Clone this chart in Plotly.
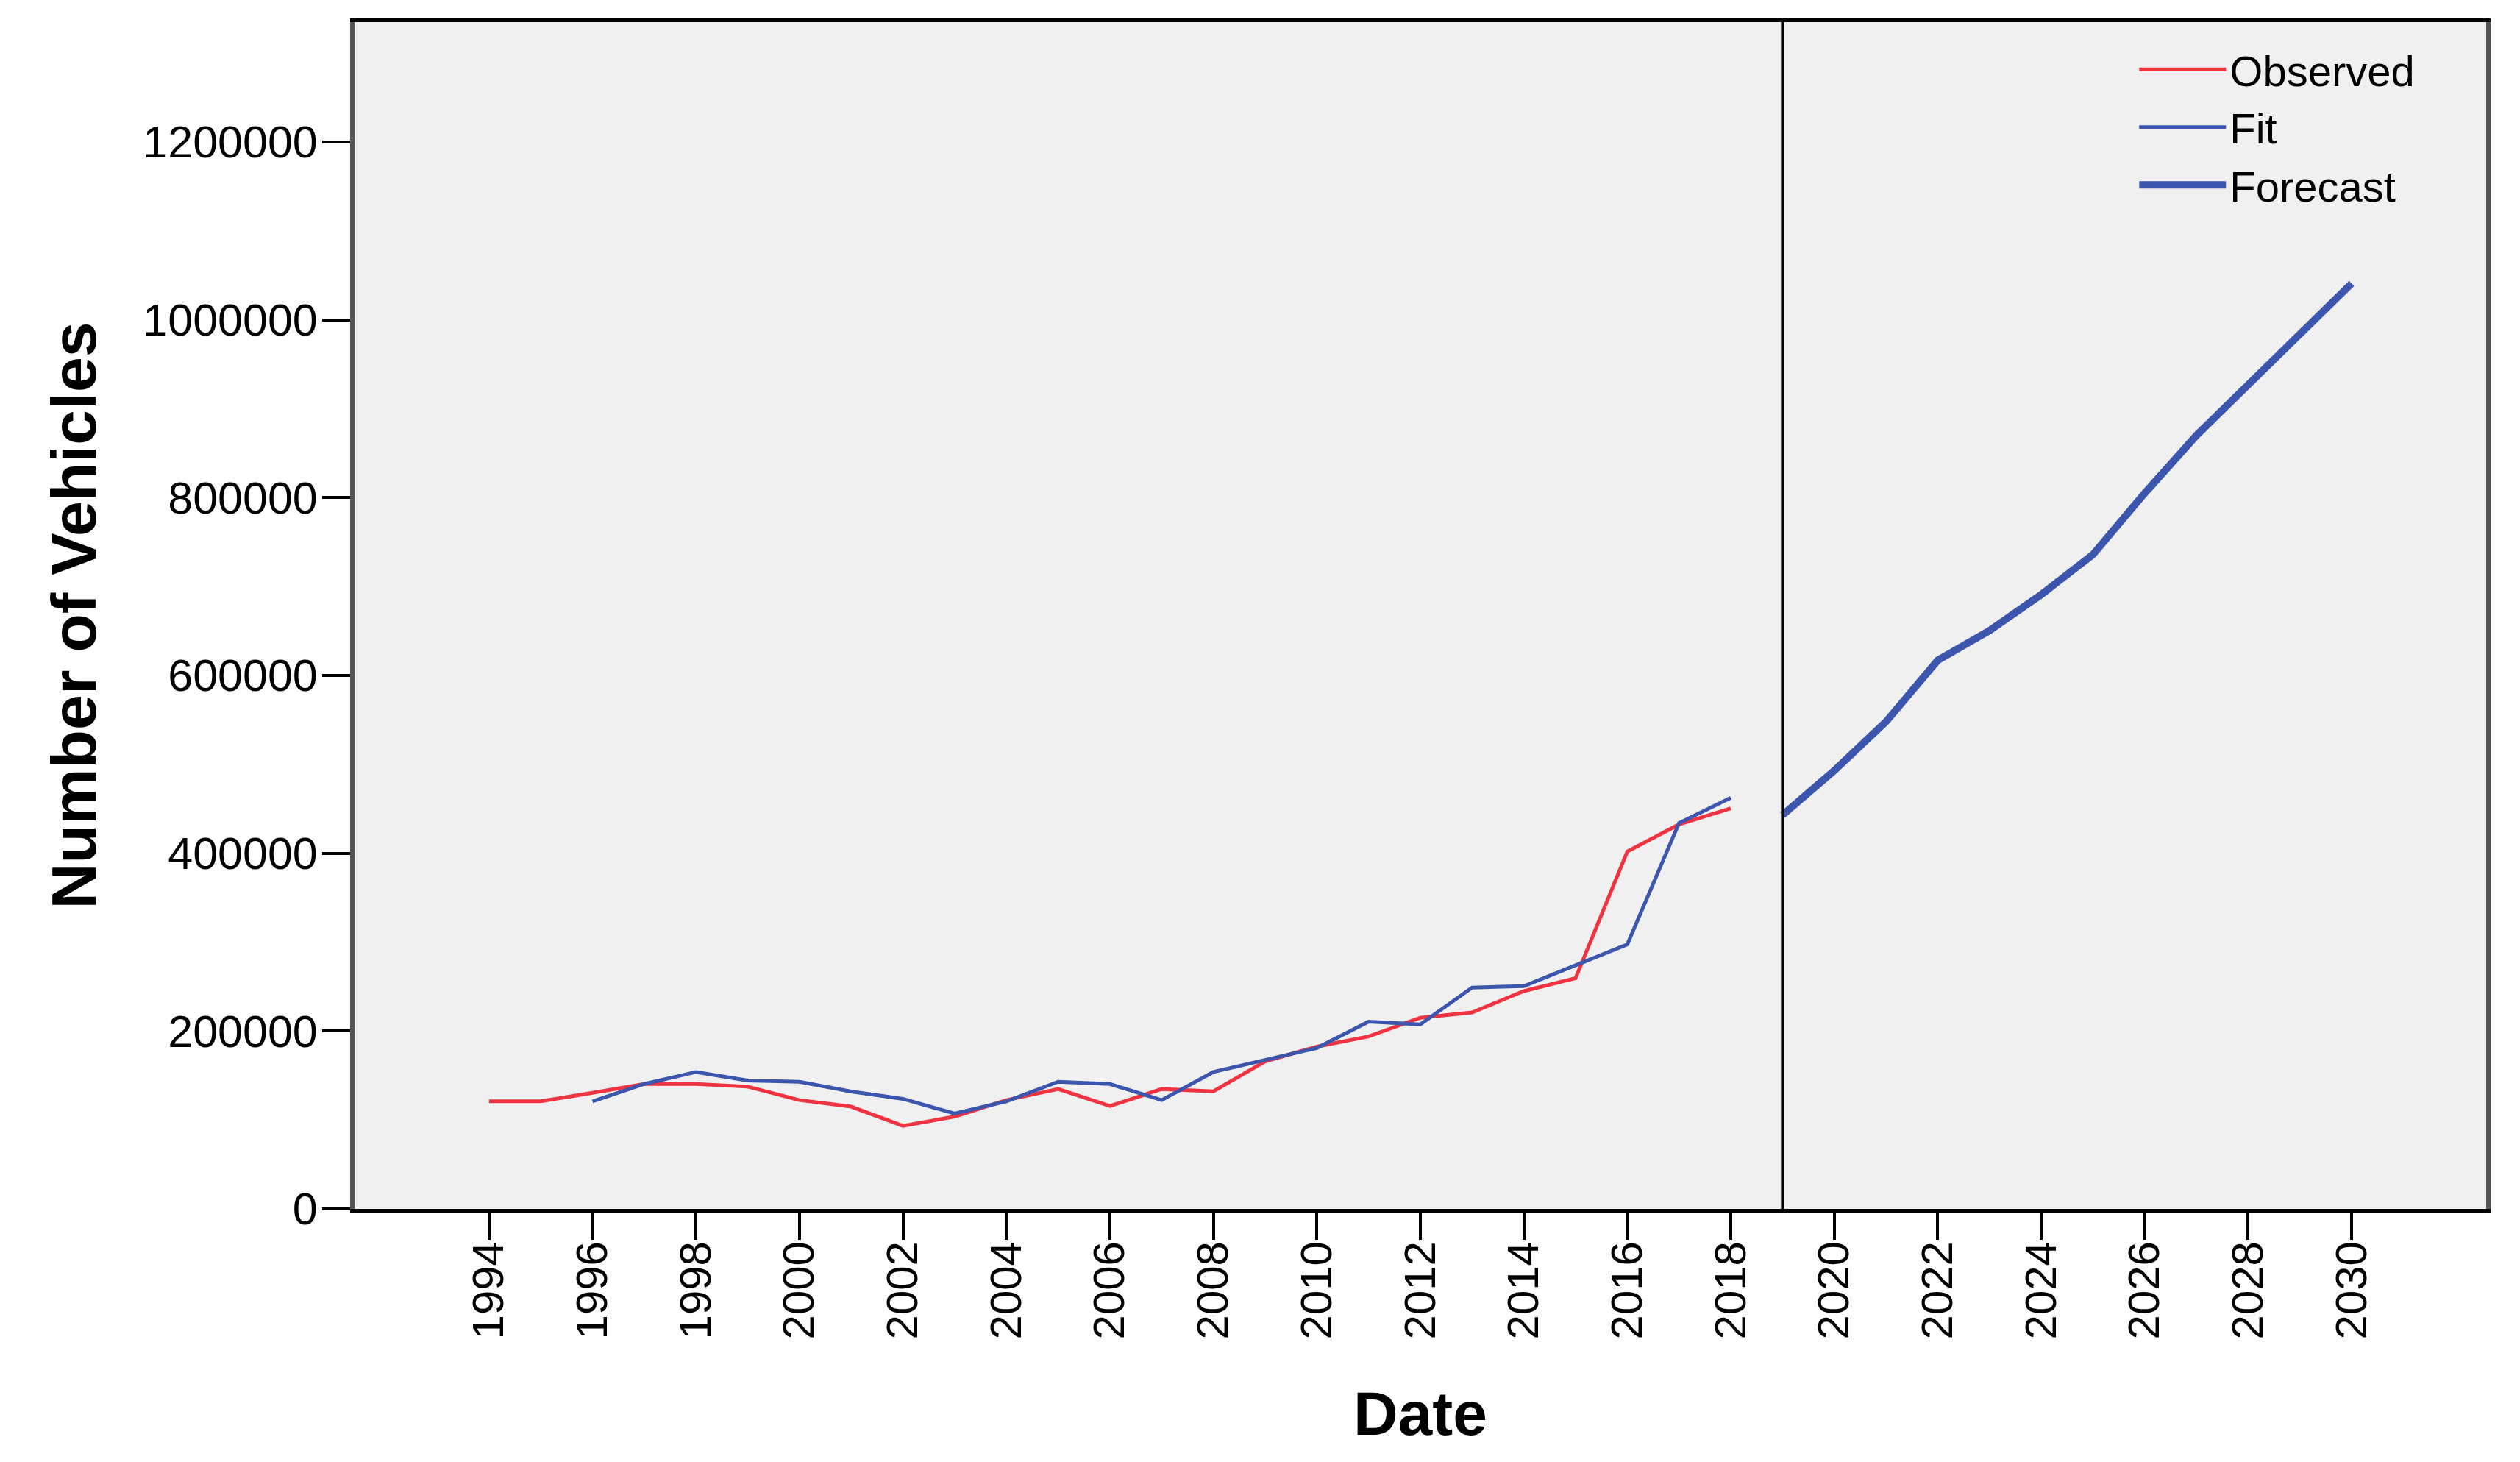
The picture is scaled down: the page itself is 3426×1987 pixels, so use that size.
import plotly.graph_objects as go

# ---- data ----
obs_years = list(range(1994, 2019))
observed = [121000, 121000, 130600, 140500, 140500, 137500, 122400, 115000, 93400,
            103800, 122400, 134800, 115700, 134800, 132300, 165800, 182500, 194000,
            215000, 221000, 245000, 259500, 402000, 432500, 450500]

fit_years = list(range(1996, 2019))
fit = [121000, 140500, 154000, 144400, 143000, 132000, 123800, 107200, 121000,
       143000, 140500, 122400, 154000, 168000, 181000, 210600, 207500, 249000,
       250500, 274000, 297500, 434000, 462500]

fc_years = list(range(2019, 2031))
forecast = [443000, 493000, 548000, 617000, 650500, 691000, 736000, 805000,
            870000, 927000, 984000, 1041000]

x_tick_vals = list(range(1994, 2031, 2))
x_tick_text = [str(v) for v in x_tick_vals]
y_tick_vals = [0, 200000, 400000, 600000, 800000, 1000000, 1200000]
y_tick_text = [str(v) for v in y_tick_vals]
forecast_start = 2019

RED = "#ef3340"
BLUE = "#3c56ae"
FONT = "Liberation Sans, Arial, sans-serif"

fig = go.Figure()
fig.add_trace(go.Scatter(x=obs_years, y=observed, mode="lines", name="Observed",
                         line=dict(color=RED, width=5)))
fig.add_trace(go.Scatter(x=fit_years, y=fit, mode="lines", name="Fit",
                         line=dict(color=BLUE, width=5)))
fig.add_trace(go.Scatter(x=fc_years, y=forecast, mode="lines", name="Forecast",
                         line=dict(color=BLUE, width=10)))

fig.add_shape(type="line", xref="x", yref="paper", x0=forecast_start, x1=forecast_start,
              y0=0, y1=1, line=dict(color="black", width=4), layer="above")

fig.update_layout(
    width=3410, height=1971,
    margin=dict(l=474, r=38, t=22, b=336, pad=0),
    paper_bgcolor="white", plot_bgcolor="#f0f0f0",
    font=dict(family=FONT, color="black", size=60),
    showlegend=True,
    legend=dict(x=0.8355, y=0.9875, xanchor="left", yanchor="top",
                bgcolor="rgba(0,0,0,0)", font=dict(size=58, family=FONT),
                itemwidth=118, tracegroupgap=0),
    xaxis=dict(range=[1991.4, 2032.6], tickmode="array", tickvals=x_tick_vals,
               ticktext=x_tick_text, tickangle=-90, ticks="outside", ticklen=37,
               tickwidth=4, tickcolor="black", showgrid=False, zeroline=False,
               showline=True, linecolor="black", linewidth=5, mirror=True,
               tickfont=dict(size=60, family=FONT), ticklabelstandoff=-22,
               title=dict(text="Date", font=dict(size=84, family=FONT, weight="bold"),
                          standoff=73)),
    yaxis=dict(range=[0, 1335000], tickmode="array", tickvals=y_tick_vals,
               ticktext=y_tick_text, ticks="outside", ticklen=38, tickwidth=4,
               tickcolor="black", showgrid=False, zeroline=False,
               showline=True, linecolor="#555555", linewidth=6, mirror=True,
               tickfont=dict(size=61, family=FONT), ticklabelstandoff=-6,
               title=dict(text="Number of Vehicles",
                          font=dict(size=86, family=FONT, weight="bold"),
                          standoff=37)),
)

fig.write_html("out.html")
